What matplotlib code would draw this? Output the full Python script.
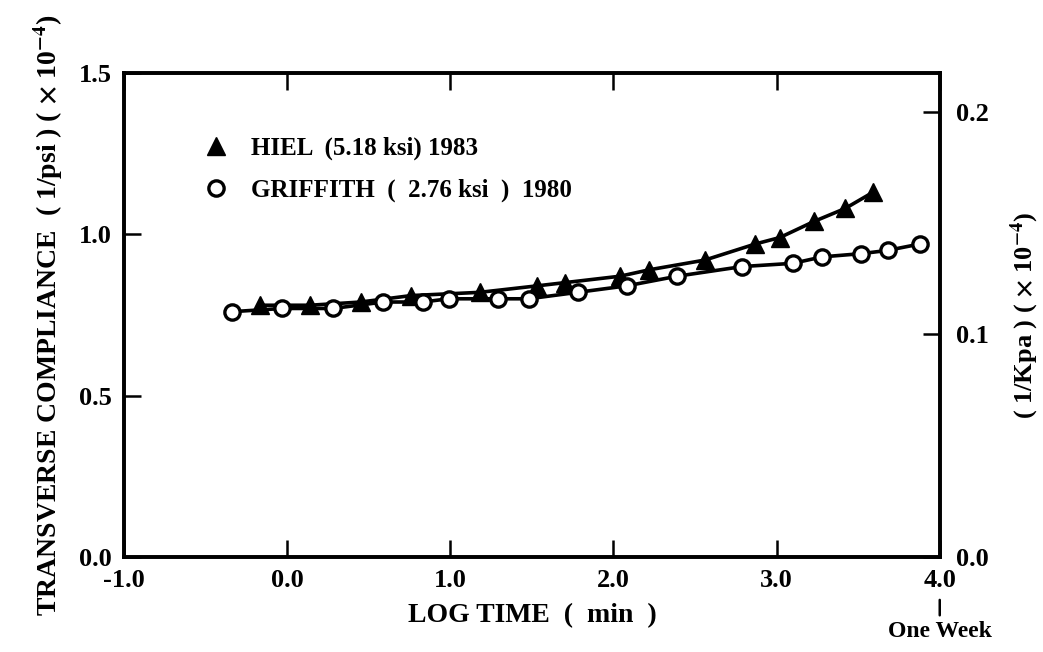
import numpy as np
import matplotlib.pyplot as plt

# log time (min) and transverse compliance (1/psi x 1e-4)
hiel_x = [-0.17, 0.14, 0.45, 0.76, 1.18, 1.53, 1.70, 2.04, 2.22, 2.56, 2.87, 3.02, 3.23, 3.42, 3.59]
hiel_y = [0.78, 0.78, 0.79, 0.81, 0.82, 0.84, 0.85, 0.87, 0.89, 0.92, 0.97, 0.99, 1.04, 1.08, 1.13]

griff_x = [-0.34, -0.03, 0.28, 0.59, 0.83, 0.99, 1.29, 1.48, 1.78, 2.08, 2.39,
           2.79, 3.10, 3.28, 3.52, 3.68, 3.88]
griff_y = [0.76, 0.77, 0.77, 0.79, 0.79, 0.80, 0.80, 0.80, 0.82, 0.84, 0.87,
           0.90, 0.91, 0.93, 0.94, 0.95, 0.97]

x_ticks = [-1.0, 0.0, 1.0, 2.0, 3.0, 4.0]
y_ticks = [0.0, 0.5, 1.0, 1.5]
kpa_ticks = [0.0, 0.1, 0.2]
PSI_TO_KPA = 0.145038   # 1/psi -> 1/kPa

plt.rcParams["font.family"] = "Liberation Serif"
plt.rcParams["font.weight"] = "bold"
plt.rcParams["mathtext.fontset"] = "stix"
plt.rcParams["mathtext.default"] = "bf"

fig = plt.figure(figsize=(10.43, 6.52), dpi=100)
ax = fig.add_axes([0.119, 0.146, 0.782, 0.742])

ax.plot(hiel_x, hiel_y, "-", color="black", lw=2.6, marker="^", ms=12.5,
        mfc="black", mec="black", label="HIEL  (5.18 ksi) 1983")
ax.plot(griff_x, griff_y, "-", color="black", lw=2.6, marker="o", ms=11,
        mfc="white", mec="black", mew=2.4, label="GRIFFITH  (  2.76 ksi  )  1980")

ax.set_xlim(-1.0, 4.0)
ax.set_ylim(0.0, 1.5)
ax.set_xticks(x_ticks)
ax.set_xticklabels([f"{v:.1f}" for v in x_ticks])
ax.set_yticks(y_ticks)
ax.set_yticklabels([f"{v:.1f}" for v in y_ticks])
ax.tick_params(axis="both", direction="in", length=12, width=1.8, labelsize=19, pad=9)
ax.tick_params(axis="x", top=True)

for s in ax.spines.values():
    s.set_linewidth(2.6)

ax.set_xlabel("LOG TIME  (  min  )", fontsize=20, fontweight="bold", labelpad=8)
ax.set_ylabel(r"TRANSVERSE COMPLIANCE  ( 1/psi ) ( $\times$ 10$^{-4}$)",
              fontsize=20, fontweight="bold", labelpad=10)

# right axis in 1/kPa
ax2 = ax.twinx()
ax2.set_ylim(0.0, 1.5 * PSI_TO_KPA)
ax2.set_yticks(kpa_ticks)
ax2.set_yticklabels([f"{v:.1f}" for v in kpa_ticks])
ax2.tick_params(axis="y", direction="in", length=12, width=1.8, labelsize=19, pad=12)
for s in ax2.spines.values():
    s.set_linewidth(2.6)
ax2.set_ylabel(r"( 1/Kpa ) ( $\times$ 10$^{-4}$)", fontsize=19, fontweight="bold",
               labelpad=14)

# "One Week" marker under 4.0
ax.annotate("", xy=(4.0, -0.125), xytext=(4.0, -0.19), xycoords="data",
            arrowprops=dict(arrowstyle="-", lw=1.8, color="black"), annotation_clip=False)
ax.text(4.0, -0.2, "One Week", ha="center", va="top", fontsize=17, fontweight="bold",
        clip_on=False)

leg = ax.legend(loc="upper left", bbox_to_anchor=(0.07, 0.915), frameon=False,
                handlelength=1.0, handletextpad=0.9, labelspacing=0.75,
                prop={"weight": "bold", "size": 18})
for h in leg.legend_handles:
    h.set_linestyle("none")

fig.savefig("out.png", dpi=100)
